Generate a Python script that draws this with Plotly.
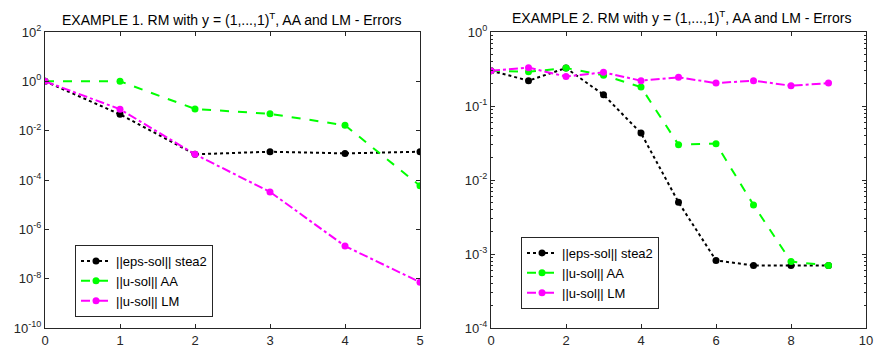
import plotly.graph_objects as go

# ---- data ----
x1 = [0, 1, 2, 3, 4, 5]
stea2_1 = [1.0, 0.046, 1.1e-3, 1.4e-3, 1.2e-3, 1.4e-3]
aa_1 = [1.0, 1.0, 0.076, 0.048, 0.0166, 5.8e-5]
lm_1 = [1.0, 0.074, 1.1e-3, 3.3e-5, 2.1e-7, 7.2e-9]

x2 = [0, 1, 2, 3, 4, 5, 6, 7, 8, 9]
stea2_2 = [0.30, 0.22, 0.326, 0.142, 0.043, 0.0050, 8.2e-4, 7.0e-4, 7.0e-4, 7.0e-4]
aa_2 = [0.30, 0.29, 0.326, 0.26, 0.18, 0.030, 0.031, 0.0046, 7.9e-4, 7.0e-4]
lm_2 = [0.30, 0.33, 0.25, 0.285, 0.22, 0.244, 0.204, 0.22, 0.188, 0.204]

names = ["||eps-sol|| stea2", "||u-sol|| AA", "||u-sol|| LM"]
colors = ["#000000", "#00ff00", "#ff00ff"]
dashes = ["dot", "dash", "dashdot"]

left_yticks = [1e-10, 1e-8, 1e-6, 1e-4, 1e-2, 1e0, 1e2]
left_ytext = ["10<sup>-10</sup>", "10<sup>-8</sup>", "10<sup>-6</sup>", "10<sup>-4</sup>",
              "10<sup>-2</sup>", "10<sup>0</sup>", "10<sup>2</sup>"]
right_yticks = [1e-4, 1e-3, 1e-2, 1e-1, 1e0]
right_ytext = ["10<sup>-4</sup>", "10<sup>-3</sup>", "10<sup>-2</sup>", "10<sup>-1</sup>", "10<sup>0</sup>"]
right_minor = [m * 10 ** e for e in (-4, -3, -2, -1) for m in range(2, 10)]

title1 = "EXAMPLE 1. RM with y = (1,...,1)<sup>T</sup>, AA and LM - Errors"
title2 = "EXAMPLE 2. RM with y = (1,...,1)<sup>T</sup>, AA and LM - Errors"

fig = go.Figure()
for ys, nm, c, d in zip([stea2_1, aa_1, lm_1], names, colors, dashes):
    fig.add_trace(go.Scatter(x=x1, y=ys, name=nm, mode="lines+markers",
                             line=dict(color=c, dash=d, width=2),
                             marker=dict(color=c, size=7, symbol="circle"),
                             xaxis="x", yaxis="y", legend="legend"))
for ys, nm, c, d in zip([stea2_2, aa_2, lm_2], names, colors, dashes):
    fig.add_trace(go.Scatter(x=x2, y=ys, name=nm, mode="lines+markers",
                             line=dict(color=c, dash=d, width=2),
                             marker=dict(color=c, size=7, symbol="circle"),
                             xaxis="x2", yaxis="y2", legend="legend2"))

ydom = [(350 - 328) / 350, (350 - 32) / 350]
axcommon = dict(showline=True, linecolor="#262626", linewidth=1, mirror="ticks",
                ticks="inside", ticklen=4, tickcolor="#262626", showgrid=False,
                zeroline=False, automargin=False,
                tickfont=dict(size=13, color="#262626"))

fig.update_layout(
    width=875, height=350,
    margin=dict(l=0, r=0, t=0, b=0),
    paper_bgcolor="white", plot_bgcolor="white",
    font=dict(family="Liberation Sans, Arial, sans-serif", color="#262626"),
    xaxis=dict(domain=[45 / 875, 420 / 875], range=[0, 5], tickvals=x1,
               anchor="y", **axcommon),
    yaxis=dict(domain=ydom, type="log", range=[-10, 2], tickvals=left_yticks,
               ticktext=left_ytext, anchor="x", **axcommon),
    xaxis2=dict(domain=[491 / 875, 866 / 875], range=[0, 10], tickvals=[0, 2, 4, 6, 8, 10],
                anchor="y2", **axcommon),
    yaxis2=dict(domain=ydom, type="log", range=[-4, 0], tickvals=right_yticks,
                ticktext=right_ytext, anchor="x2",
                minor=dict(tickvals=right_minor, ticks="inside", ticklen=2, tickcolor="#262626"),
                **axcommon),
    legend=dict(x=75 / 875, y=(350 - 245) / 350, xanchor="left", yanchor="top",
                bgcolor="white", bordercolor="#262626", borderwidth=1,
                font=dict(size=13, color="#000"), itemwidth=30, tracegroupgap=0),
    legend2=dict(x=521 / 875, y=(350 - 237) / 350, xanchor="left", yanchor="top",
                 bgcolor="white", bordercolor="#262626", borderwidth=1,
                 font=dict(size=13, color="#000"), itemwidth=30, tracegroupgap=0),
    annotations=[
        dict(text=title1, x=232 / 875, y=(350 - 19) / 350, xref="paper", yref="paper",
             xanchor="center", yanchor="middle",
             showarrow=False, font=dict(size=14, color="#000")),
        dict(text=title2, x=681 / 875, y=(350 - 17) / 350, xref="paper", yref="paper",
             xanchor="center", yanchor="middle",
             showarrow=False, font=dict(size=14, color="#000")),
    ],
)

fig.write_html("out.html")
